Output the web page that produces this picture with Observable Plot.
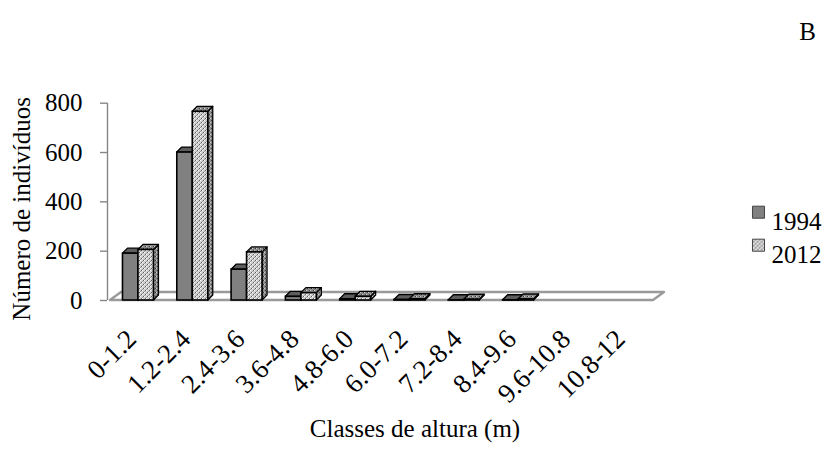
<!DOCTYPE html>
<html><head><meta charset="utf-8">
<script src="https://cdn.jsdelivr.net/npm/d3@7"></script>
<script src="https://cdn.jsdelivr.net/npm/@observablehq/plot@0.6"></script>
<style>body{margin:0;background:#fff;} svg{display:block;}</style>
</head><body><div id="chart"></div>
<script>
const categories = ["0-1.2","1.2-2.4","2.4-3.6","3.6-4.8","4.8-6.0","6.0-7.2","7.2-8.4","8.4-9.6","9.6-10.8","10.8-12"];
const v1994 = [190, 600, 125, 15, 5, 2, 1, 1, 0, 0];
const v2012 = [205, 765, 195, 30, 15, 5, 3, 4, 0, 0];
const years = ["1994", "2012"];
const yTicks = [0, 200, 400, 600, 800];
const yLabel = "Número de indivíduos";
const xLabel = "Classes de altura (m)";
const panel = "B";

const W = 824, H = 453;
const mL = 110, mR = 171, mT = 102.7, mB = 153;
const xDom = [0, categories.length], yDom = [0, 800];
const pxX = (W - mL - mR) / (xDom[1] - xDom[0]);
const pxY = (H - mT - mB) / (yDom[1] - yDom[0]);
const bdx = 5 / pxX, bdy = 5 / pxY;
const fdx = 11 / pxX, fdy = 8 / pxY;
const barW = 0.285, barStart = 0.23;

const series = [v1994, v2012];
const bars = [];
categories.forEach((c, i) => {
  series.forEach((vals, j) => {
    const v = vals[i];
    if (v <= 0) return;
    const x1 = i + barStart + j * barW, x2 = x1 + barW;
    bars.push({id: `${i}-${j}`, year: years[j], x1, x2, v});
  });
});
const sides = bars.flatMap(b => [
  {id: b.id, year: b.year, x: b.x2, y1: 0, y2: b.v},
  {id: b.id, year: b.year, x: b.x2 + bdx, y1: bdy, y2: b.v + bdy}
]);
const tops = bars.flatMap(b => [
  {id: b.id, year: b.year, y: b.v, x1: b.x1, x2: b.x2},
  {id: b.id, year: b.year, y: b.v + bdy, x1: b.x1 + bdx, x2: b.x2 + bdx}
]);
const floor = [
  {y: 0, x1: xDom[0], x2: xDom[1]},
  {y: fdy, x1: xDom[0] + fdx, x2: xDom[1] + fdx}
];
const frontFill = {"1994": "#808080", "2012": "url(#dots)"};
const sideFill = {"1994": "#4a4a4a", "2012": "url(#dotsDark)"};
const topFill = {"1994": "#5e5e5e", "2012": "url(#dotsDark)"};

const font = "Liberation Serif, Times New Roman, serif";
const chart = Plot.plot({
  width: W, height: H,
  marginLeft: mL, marginRight: mR, marginTop: mT, marginBottom: mB,
  x: {type: "linear", domain: xDom, axis: null},
  y: {type: "linear", domain: yDom, axis: null},
  style: {fontFamily: font, fontSize: "20px", color: "#000", background: "#fff"},
  marks: [
    Plot.areaX(floor, {y: "y", x1: "x1", x2: "x2", fill: "#fff", stroke: "#9a9a9a", strokeWidth: 2.4}),
    Plot.ruleX([0], {y1: yDom[0], y2: yDom[1], dx: -3, stroke: "#868686", strokeWidth: 1.4}),
    Plot.ruleY(yTicks, {y: d => d, x1: -10 / pxX, x2: -3 / pxX, stroke: "#868686", strokeWidth: 1.4}),
    Plot.text(yTicks, {y: d => d, frameAnchor: "left", dx: -28, textAnchor: "end", fontSize: 25, fill: "#000"}),
    Plot.areaY(sides, {x: "x", y1: "y1", y2: "y2", z: "id", fill: d => sideFill[d.year], stroke: "#000", strokeWidth: 1.3}),
    Plot.areaX(tops, {y: "y", x1: "x1", x2: "x2", z: "id", fill: d => topFill[d.year], stroke: "#000", strokeWidth: 1.3}),
    Plot.rect(bars, {x1: "x1", x2: "x2", y1: 0, y2: "v", fill: d => frontFill[d.year], stroke: "#000", strokeWidth: 1.6}),
    Plot.text(categories, {x: (d, i) => i + 0.5, y: 0, rotate: -45, textAnchor: "end", dx: -6, dy: 34, fontSize: 27, fill: "#000"}),
    Plot.text([xLabel], {frameAnchor: "bottom", textAnchor: "middle", dx: 33, dy: 136, fontSize: 25, fill: "#000"}),
    Plot.text([yLabel], {frameAnchor: "left", textAnchor: "middle", rotate: -90, dx: -89, dy: 7, fontSize: 25, fill: "#000"}),
    Plot.text([panel], {frameAnchor: "top-right", textAnchor: "middle", dx: 154, dy: -81, fontSize: 25, fill: "#000"}),
    Plot.dot([years[0]], {frameAnchor: "top-right", dx: 105, dy: 109, symbol: "square", r: 6.8,
      fill: frontFill[years[0]], stroke: "#444", strokeWidth: 1}),
    Plot.dot([years[1]], {frameAnchor: "top-right", dx: 105, dy: 142, symbol: "square", r: 6.8,
      fill: frontFill[years[1]], stroke: "#444", strokeWidth: 1}),
    Plot.text([years[0]], {frameAnchor: "top-right", textAnchor: "start", dx: 118, dy: 109, fontSize: 25, fill: "#000"}),
    Plot.text([years[1]], {frameAnchor: "top-right", textAnchor: "start", dx: 118, dy: 142, fontSize: 25, fill: "#000"})
  ]
});
document.getElementById("chart").append(chart);
chart.insertAdjacentHTML("afterbegin", `<defs>
<pattern id="dots" width="4" height="4" patternUnits="userSpaceOnUse">
<rect width="4" height="4" fill="#d0d0d0"/><rect x="0" y="0" width="1" height="1" fill="#fff"/><rect x="2" y="2" width="1" height="1" fill="#fff"/>
<rect x="1" y="2" width="1" height="1" fill="#606060"/><rect x="3" y="0" width="1" height="1" fill="#606060"/><rect x="2" y="1" width="1" height="1" fill="#a0a0a0"/><rect x="0" y="3" width="1" height="1" fill="#a0a0a0"/>
</pattern>
<pattern id="dotsDark" width="4" height="4" patternUnits="userSpaceOnUse">
<rect width="4" height="4" fill="#8a8a8a"/><rect x="0" y="0" width="1" height="1" fill="#cfcfcf"/><rect x="2" y="2" width="1" height="1" fill="#cfcfcf"/>
<rect x="1" y="2" width="1" height="1" fill="#3a3a3a"/><rect x="3" y="0" width="1" height="1" fill="#3a3a3a"/>
</pattern></defs>`);
</script>
</body></html>
